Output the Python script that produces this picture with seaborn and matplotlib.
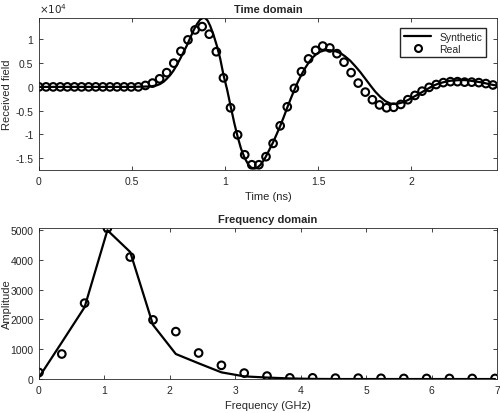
import matplotlib
matplotlib.use("Agg")
import numpy as np
import pandas as pd
import seaborn as sns
from matplotlib import pyplot as plt
from matplotlib.lines import Line2D
from matplotlib.ticker import FuncFormatter

# time domain, values in units of 1e4
dt = 0.0381
real_td = [0, 0, 0, 0, 0, 0, 0, 0, 0, 0, 0, 0, 0, 0, 0,
           0.03, 0.08, 0.17, 0.30, 0.50, 0.75, 0.99, 1.20, 1.27, 1.11,
           0.74, 0.19, -0.44, -1.01, -1.43, -1.64, -1.64, -1.47, -1.19, -0.82,
           -0.42, -0.03, 0.32, 0.59, 0.77, 0.86, 0.82, 0.70, 0.52, 0.30,
           0.08, -0.11, -0.27, -0.38, -0.44, -0.43, -0.37, -0.27, -0.18, -0.09,
           -0.01, 0.05, 0.09, 0.11, 0.11, 0.10, 0.10, 0.09, 0.07, 0.04]
real_t = [k * dt for k in range(len(real_td))]

syn_t = [0, 0.1, 0.2, 0.3, 0.4, 0.5, 0.55, 0.6, 0.63, 0.65, 0.67, 0.686, 0.705,
         0.722, 0.74, 0.758, 0.776, 0.794, 0.812, 0.83, 0.848, 0.866, 0.88, 0.892,
         0.905, 0.919, 0.937, 0.955, 0.973, 0.991, 1.01, 1.03, 1.05, 1.067, 1.085,
         1.105, 1.125, 1.14, 1.155, 1.17, 1.19, 1.21, 1.23, 1.257, 1.275, 1.295,
         1.315, 1.334, 1.353, 1.372, 1.39, 1.41, 1.43, 1.45, 1.47, 1.49, 1.51,
         1.53, 1.55, 1.57, 1.59, 1.62, 1.645, 1.672, 1.70, 1.726, 1.753, 1.78,
         1.806, 1.833, 1.86, 1.887, 1.905, 1.93, 1.959, 1.985, 2.012, 2.04, 2.066,
         2.093, 2.12, 2.147, 2.174, 2.21, 2.246, 2.27, 2.30, 2.335, 2.37, 2.405,
         2.44, 2.46]
syn_td = [0, 0, 0, 0, 0, 0, 0.005, 0.01, 0.03, 0.06, 0.11, 0.17, 0.25,
          0.34, 0.46, 0.59, 0.73, 0.87, 1.03, 1.19, 1.32, 1.42, 1.45, 1.45,
          1.40, 1.29, 1.10, 0.87, 0.60, 0.25, -0.05, -0.42, -0.78, -1.05, -1.30,
          -1.50, -1.64, -1.70, -1.72, -1.71, -1.64, -1.53, -1.38, -1.17, -1.01, -0.83,
          -0.63, -0.43, -0.24, -0.06, 0.10, 0.26, 0.40, 0.52, 0.62, 0.69, 0.74,
          0.765, 0.775, 0.77, 0.755, 0.71, 0.64, 0.55, 0.43, 0.31, 0.17, 0.03,
          -0.10, -0.21, -0.30, -0.35, -0.36, -0.35, -0.32, -0.27, -0.21, -0.15, -0.09,
          -0.03, 0.03, 0.07, 0.10, 0.13, 0.14, 0.145, 0.14, 0.12, 0.10, 0.07,
          0.04, 0.03]

# frequency domain
df_ghz = 0.3485
real_fd = [220, 840, 2545, 5060, 4092, 1984, 1591, 874, 460, 200, 100,
           40, 40, 30, 30, 25, 20, 20, 20, 20, 20]
syn_fd = [60, 1230, 2410, 4990, 4260, 1816, 840, 528, 225, 90, 50,
          20, 5, 0, 0, 0, 0, 0, 0, 0, 0]
freq = [k * df_ghz for k in range(len(real_fd))]

td_real = pd.DataFrame({"t": real_t, "v": real_td})
td_syn = pd.DataFrame({"t": syn_t, "v": syn_td})
fd = pd.DataFrame({"f": freq, "real": real_fd, "syn": syn_fd})

sns.set_style("ticks")
plt.rcParams["font.family"] = ["Liberation Sans", "DejaVu Sans"]
plt.rcParams["axes.edgecolor"] = "#262626"
plt.rcParams["xtick.color"] = "#262626"
plt.rcParams["ytick.color"] = "#262626"

fig = plt.figure(figsize=(5, 4.14), dpi=100)
ax1 = fig.add_axes([0.078, 0.587, 0.916, 0.367])
ax2 = fig.add_axes([0.078, 0.082, 0.916, 0.365])

sns.lineplot(data=td_syn, x="t", y="v", ax=ax1, color="black", linewidth=1.6,
             estimator=None, sort=False)
sns.scatterplot(data=td_real, x="t", y="v", ax=ax1, marker="o", s=30,
                facecolors="none", edgecolor="black", linewidth=1.5)
ax1.set_xlim(0, 2.46)
ax1.set_ylim(-1.75, 1.45)
ax1.set_xticks([0, 0.5, 1, 1.5, 2])
ax1.set_yticks([-1.5, -1, -0.5, 0, 0.5, 1])
fmt = FuncFormatter(lambda v, p: f"{v:g}")
ax1.xaxis.set_major_formatter(fmt)
ax1.yaxis.set_major_formatter(fmt)
ax1.set_title("Time domain", fontsize=8, fontweight="bold", pad=4)
ax1.set_xlabel("Time (ns)", fontsize=8, labelpad=4)
ax1.set_ylabel("Received field", fontsize=8)
ax1.yaxis.set_label_coords(-0.058, 0.5)
ax1.text(0.0, 1.02, r"$\times10^4$", transform=ax1.transAxes, fontsize=7.5,
         color="#262626", ha="left", va="bottom")

handles = [Line2D([], [], color="black", linewidth=1.6),
           Line2D([], [], color="black", marker="o", linestyle="none",
                  markerfacecolor="none", markersize=5, markeredgewidth=1.5)]
ax1.legend(handles, ["Synthetic", "Real"], loc="upper right", fontsize=7.5,
           frameon=True, fancybox=False, edgecolor="#262626", framealpha=1,
           borderpad=0.35, handlelength=2.6, labelspacing=0.2,
           borderaxespad=0, bbox_to_anchor=(0.976, 0.934))

sns.lineplot(data=fd, x="f", y="syn", ax=ax2, color="black", linewidth=1.6,
             estimator=None, sort=False)
sns.scatterplot(data=fd, x="f", y="real", ax=ax2, marker="o", s=30,
                facecolors="none", edgecolor="black", linewidth=1.5)
ax2.set_xlim(0, 7)
ax2.set_ylim(0, 5067)
ax2.set_xticks(range(0, 8))
ax2.set_yticks(range(0, 5001, 1000))
ax2.set_title("Frequency domain", fontsize=8, fontweight="bold", pad=4)
ax2.set_xlabel("Frequency (GHz)", fontsize=8, labelpad=4)
ax2.set_ylabel("Amplitude", fontsize=8)
ax2.yaxis.set_label_coords(-0.058, 0.5)

for ax in (ax1, ax2):
    ax.tick_params(direction="in", top=True, right=True, labelsize=7.5,
                   length=3, width=0.6, pad=4)
    for s in ax.spines.values():
        s.set_linewidth(0.6)
        s.set_visible(True)

fig.savefig("out.png", dpi=100)
